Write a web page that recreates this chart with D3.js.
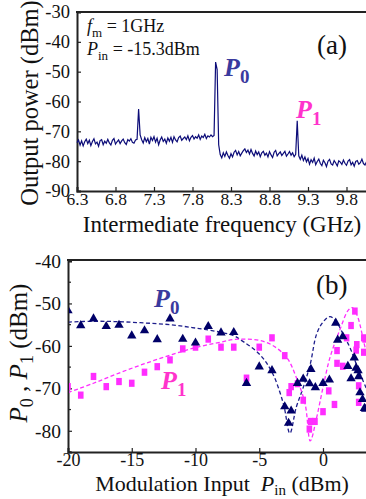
<!DOCTYPE html>
<html>
<head>
<meta charset="utf-8">
<title>IF spectrum and P0/P1 versus modulation input</title>
<script src="https://d3js.org/d3.v7.min.js"></script>
<style>
  body { margin: 0; background: #fff; }
  svg text { font-family: "Liberation Serif", "Times New Roman", serif; fill: #111; }
</style>
</head>
<body>
<div id="chart"></div>
<script>
// ---- (a) spectrum: start freq, step and read-off power values (dBm)
var specStart = 6.30, specStep = 0.02;
var specPower = [
  -73.8,-72.9,-74.6,-73.2,-74.9,-73.5,-72.6,-74.1,-73.0,-74.8,
  -73.4,-72.5,-74.2,-73.6,-75.0,-73.1,-72.8,-74.5,-73.3,-74.0,
  -72.7,-73.9,-74.6,-73.0,-72.4,-74.3,-73.5,-72.9,-74.1,-73.2,
  -72.6,-73.8,-74.4,-72.8,-73.3,-72.5,-73.7,-74.0,-72.9,-72.7,
  -62.5,
  -71.2,-72.8,-73.9,-72.1,-73.5,-72.4,-74.3,-72.0,-73.1,-71.8,
  -73.6,-72.3,-74.5,-72.9,-71.9,-73.4,-72.6,-74.0,-72.2,-73.3,
  -72.0,-73.7,-71.8,-72.9,-73.5,-72.1,-71.6,-73.0,-72.4,-71.9,
  -72.8,-71.5,-73.2,-72.0,-71.4,-72.6,-71.8,-72.3,-71.2,-72.7,
  -71.6,-72.1,-71.0,-72.4,-71.5,-71.9,-71.2,-71.8,-71.4,
  -46.8,-49.3,-74.5,
  -77.8,-78.9,-77.2,-78.4,-76.9,-78.1,-79.0,-77.5,-78.6,-77.0,
  -76.4,-77.9,-76.8,-78.2,-77.3,-76.5,-75.9,-77.1,-76.3,-77.6,
  -76.1,-77.4,-78.3,-76.6,-77.8,-76.9,-78.5,-77.2,-76.7,-78.0,
  -77.3,-78.6,-76.8,-77.9,-78.8,-77.0,-76.4,-78.2,-77.5,-76.9,
  -78.1,-77.4,-76.7,-78.3,-77.6,-76.8,-78.0,-77.2,-78.5,-77.7,
  -66.5,
  -78.2,-79.4,-78.0,-79.8,-78.6,-80.2,-79.1,-81.0,-79.5,-80.4,
  -79.0,-81.2,-80.1,-79.3,-80.8,-81.5,-79.7,-80.5,-81.8,-80.0,
  -79.4,-80.9,-81.3,-79.8,-80.6,-81.6,-79.9,-80.3,-81.1,-79.6,
  -80.7,-81.4,-80.0,-79.5,-81.2,-80.4,-81.7,-80.1,-79.8,-81.0,
  -80.5,-79.3,-80.8,-81.3,-80.2
];
var freqTicks = [6.3, 6.8, 7.3, 7.8, 8.3, 8.8, 9.3, 9.8];
var powerTicks = [-30, -40, -50, -60, -70, -80, -90];

// ---- (b) measured P0 (triangles) and P1 (squares), [Pin, dBm]
var p0Points = [
  [-20,-51.7],[-19,-55.2],[-18,-53.6],[-17,-55.4],[-16,-55.1],[-15,-57.6],
  [-14,-56.4],[-13,-58.5],[-12,-53.6],[-11,-58.4],[-10,-59.3],[-9,-55.4],
  [-8,-56.9],[-7,-56.8],[-6,-68.8],[-5,-64.9],[-4,-65.8],[-3,-74.3],
  [-2.7,-78.2],[-2.5,-75.3],[-2,-68.8],[-1.55,-67.8],[-0.95,-65.5],[-1.05,-68.9],
  [-0.6,-69.8],[0,-68.8],[0.5,-68.0],[1.0,-54.6],[1.15,-58.6],[1.55,-57.8],
  [1.95,-64.8],[2.2,-67.7],[2.45,-62.8],[2.6,-65.2],[2.75,-65.8],[2.8,-67.2],
  [2.9,-71.0],[3.1,-72.6],[3.25,-74.7],[3.35,-74.9]
];
var p1Points = [
  [-20,-69.6],[-19,-71.6],[-18,-67.2],[-17,-69.6],[-16,-68.4],[-15,-68.8],
  [-14,-66.2],[-13,-64.9],[-12,-63.3],[-11,-60.7],[-10,-60.3],[-9,-58.4],
  [-8,-60.3],[-7,-60.3],[-6,-67.6],[-5,-60.3],[-4,-58.1],[-3,-62.3],
  [-2.5,-69.6],[-2.65,-71.0],[-2,-68.9],[-1.55,-72.8],[-1.07,-79.6],[-0.97,-77.8],
  [-0.63,-77.8],[0,-75.5],[0.45,-70.6],[0.9,-73.8],[1.1,-64.1],[1.1,-61.1],
  [1.55,-64.8],[1.85,-58.1],[2.2,-55.2],[2.5,-51.8],[2.6,-61.0],[2.65,-59.7],
  [2.8,-69.4],[2.8,-73.3],[3.2,-58.1],[3.2,-61.5],[3.3,-58.4]
];
// dashed fit curves
var p0Fit = [
  [-20,-54.4],[-18,-54.2],[-16,-54.3],[-14,-54.6],[-12,-55.0],[-10,-55.8],
  [-8,-56.8],[-7,-57.6],[-6.5,-58.5],[-5,-61.9],[-4,-66.2],[-3.1,-73.7],
  [-2.6,-80.6],[-2.1,-74.5],[-1.55,-69.8],[-1.0,-64.3],[-0.5,-57.2],[0,-54.4],
  [0.55,-53.1],[1.1,-54.6],[1.7,-58.0],[2.1,-60.3],[2.8,-65.8],[3.4,-70.0]
];
var p1Fit = [
  [-20,-71.0],[-18,-68.8],[-16,-66.4],[-14,-64.2],[-12,-62.2],[-10,-60.4],
  [-8,-59.1],[-7,-58.5],[-6,-58.4],[-5,-58.7],[-4,-59.8],[-2.85,-62.7],
  [-2.1,-67.4],[-1.4,-73.7],[-1.0,-82.4],[-0.5,-76.9],[0,-69.8],[0.55,-62.7],
  [1.3,-56.4],[2.0,-51.5],[2.3,-51.0],[2.7,-53.0],[3.3,-60.3],[3.5,-62.0]
];
var pinTicks = [-20, -15, -10, -5, 0];
var dbTicks = [-40, -50, -60, -70, -80];
var dbMinor = [-45, -55, -65, -75, -85];

var navy = "#0c0c78", magenta = "#ff2dff";
var W = 366, H = 499;

var svg = d3.select("#chart").append("svg")
    .attr("width", W).attr("height", H);

// ================= panel (a) =================
var xa = d3.scaleLinear().domain([6.3, 10.3]).range([77, 385]);
var ya = d3.scaleLinear().domain([-90, -30]).range([191, 12]);

var ga = svg.append("g");
ga.append("g").attr("transform", "translate(0,191)")
  .call(d3.axisBottom(xa).tickValues(freqTicks).tickSize(-4).tickPadding(2)
        .tickFormat(function(d) { return d.toFixed(1); }))
  .call(fixAxis, 17.5);
ga.append("g").attr("transform", "translate(77,0)")
  .call(d3.axisLeft(ya).tickValues(powerTicks).tickSize(-4).tickPadding(7)
        .tickFormat(function(d) { return String(d); }))
  .call(fixAxis, 18.5);
ga.append("line").attr("x1", 76).attr("x2", W).attr("y1", 12).attr("y2", 12)
  .attr("stroke", "#222").attr("stroke-width", 2);

var specLine = d3.line()
  .x(function(d, i) { return xa(specStart + i * specStep); })
  .y(function(d) { return ya(d); });
ga.append("path").datum(specPower)
  .attr("d", specLine)
  .attr("fill", "none").attr("stroke", navy).attr("stroke-width", 1.2);

ga.append("text").attr("x", 29).attr("y", 103)
  .attr("transform", "rotate(-90,29,103)").attr("dy", "0.35em")
  .attr("text-anchor", "middle").style("font-size", "24.5px")
  .text("Output power (dBm)");
ga.append("text").attr("x", 222).attr("y", 232)
  .attr("text-anchor", "middle").style("font-size", "23px")
  .text("Intermediate frequency (GHz)");

var t1 = ga.append("text").attr("x", 87).attr("y", 32).style("font-size", "18px");
t1.append("tspan").style("font-style", "italic").text("f");
t1.append("tspan").attr("dy", 5).style("font-size", "13px").text("m");
t1.append("tspan").attr("dy", -5).text(" = 1GHz");
var t2 = ga.append("text").attr("x", 87).attr("y", 55).style("font-size", "18px");
t2.append("tspan").style("font-style", "italic").text("P");
t2.append("tspan").attr("dy", 5).style("font-size", "13px").text("in");
t2.append("tspan").attr("dy", -5).text(" = -15.3dBm");
ga.append("text").attr("x", 317).attr("y", 54).style("font-size", "27px").text("(a)");

pLabel(ga, 224, 76, "0", "#3a3a9e");
pLabel(ga, 296, 118, "1", "#ff33cc");

// ================= panel (b) =================
var xb = d3.scaleLinear().domain([-20, 4]).range([68, 374]);
var yb = d3.scaleLinear().domain([-85, -40]).range([452, 261]);

var gb = svg.append("g");
gb.append("g").attr("transform", "translate(0,452)")
  .call(d3.axisBottom(xb).tickValues(pinTicks).tickSize(-4).tickPadding(1)
        .tickFormat(function(d) { return String(d); }))
  .call(fixAxis, 18);
gb.append("g").attr("transform", "translate(68,0)")
  .call(d3.axisLeft(yb).tickValues(dbTicks).tickSize(-4).tickPadding(7)
        .tickFormat(function(d) { return String(d); }))
  .call(fixAxis, 19.5);
gb.append("g").selectAll("line").data(dbMinor).join("line")
  .attr("x1", 68).attr("x2", 71)
  .attr("y1", function(d) { return yb(d); }).attr("y2", function(d) { return yb(d); })
  .attr("stroke", "#222").attr("stroke-width", 1.2);
gb.append("line").attr("x1", 67).attr("x2", W).attr("y1", 260).attr("y2", 260)
  .attr("stroke", "#222").attr("stroke-width", 2);

svg.append("clipPath").attr("id", "clipb").append("rect")
  .attr("x", 69).attr("y", 261).attr("width", 320).attr("height", 190);
var plot = gb.append("g").attr("clip-path", "url(#clipb)");

var fitLine = d3.line().curve(d3.curveCatmullRom.alpha(0.5))
  .x(function(d) { return xb(d[0]); }).y(function(d) { return yb(d[1]); });
plot.append("path").datum(p0Fit).attr("d", fitLine)
  .attr("fill", "none").attr("stroke", "#1e1e8c").attr("stroke-width", 1.3)
  .attr("stroke-dasharray", "4,2.5");
plot.append("path").datum(p1Fit).attr("d", fitLine)
  .attr("fill", "none").attr("stroke", magenta).attr("stroke-width", 1.3)
  .attr("stroke-dasharray", "4,2.5");

plot.selectAll("rect.p1").data(p1Points).join("rect").attr("class", "p1")
  .attr("x", function(d) { return xb(d[0]) - 2.8; })
  .attr("y", function(d) { return yb(d[1]) - 3.6; })
  .attr("width", 5.6).attr("height", 7.2).attr("fill", magenta);
plot.selectAll("path.p0").data(p0Points).join("path").attr("class", "p0")
  .attr("d", d3.symbol(d3.symbolTriangle, 38))
  .attr("transform", function(d) { return "translate(" + xb(d[0]) + "," + yb(d[1]) + ")"; })
  .attr("fill", "#000068");

var yl = gb.append("text").attr("transform", "translate(27,353) rotate(-90)")
  .attr("text-anchor", "middle").style("font-size", "25px");
yl.append("tspan").style("font-style", "italic").text("P");
yl.append("tspan").attr("dy", 6).style("font-size", "18px").text("0");
yl.append("tspan").attr("dy", -6).text(" , ");
yl.append("tspan").style("font-style", "italic").text("P");
yl.append("tspan").attr("dy", 6).style("font-size", "18px").text("1");
yl.append("tspan").attr("dy", -6).text(" (dBm)");

var xl = gb.append("text").attr("x", 222).attr("y", 491)
  .attr("text-anchor", "middle").style("font-size", "22px");
xl.append("tspan").text("Modulation Input\u00a0 ");
xl.append("tspan").style("font-style", "italic").text("P");
xl.append("tspan").attr("dy", 4).style("font-size", "15px").text("in");
xl.append("tspan").attr("dy", -4).text(" (dBm)");

gb.append("text").attr("x", 316).attr("y", 294).style("font-size", "27px").text("(b)");
pLabel(gb, 154, 307, "0", "#3a3a9e");
pLabel(gb, 161, 389, "1", "#ff33cc");

function fixAxis(g, fs) {
  g.attr("font-family", null);
  g.select(".domain").attr("stroke", "#222").attr("stroke-width", 2);
  g.selectAll(".tick line").attr("stroke", "#222").attr("stroke-width", 1.2);
  g.selectAll(".tick text").style("font-size", fs + "px")
    .style("font-family", "'Liberation Serif', serif").attr("fill", "#111");
}

function pLabel(g, x, y, sub, col) {
  var t = g.append("text").attr("x", x).attr("y", y)
    .style("font-size", "26px").style("font-weight", "bold").style("font-style", "italic")
    .style("fill", col);
  t.append("tspan").text("P");
  t.append("tspan").attr("dy", 7).style("font-size", "19px").style("font-style", "normal").text(sub);
}
</script>
</body>
</html>
